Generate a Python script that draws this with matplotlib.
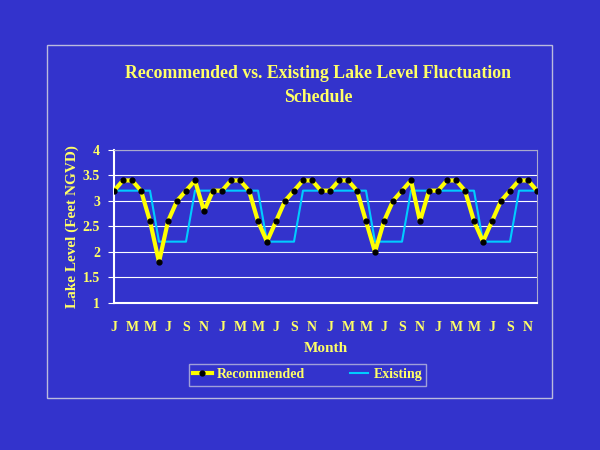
import matplotlib.pyplot as plt
from matplotlib.patches import Rectangle

# monthly lake levels over four years (Jan..Dec x 4)
months = ['J', 'F', 'M', 'A', 'M', 'J', 'J', 'A', 'S', 'O', 'N', 'D'] * 4
recommended = [3.2, 3.4, 3.4, 3.2, 2.6, 1.8, 2.6, 3.0, 3.2, 3.4, 2.8, 3.2,
               3.2, 3.4, 3.4, 3.2, 2.6, 2.2, 2.6, 3.0, 3.2, 3.4, 3.4, 3.2,
               3.2, 3.4, 3.4, 3.2, 2.6, 2.0, 2.6, 3.0, 3.2, 3.4, 2.6, 3.2,
               3.2, 3.4, 3.4, 3.2, 2.6, 2.2, 2.6, 3.0, 3.2, 3.4, 3.4, 3.2]
existing = [3.2, 3.2, 3.2, 3.2, 3.2, 2.2, 2.2, 2.2, 2.2, 3.2, 3.2, 3.2,
            3.2, 3.2, 3.2, 3.2, 3.2, 2.2, 2.2, 2.2, 2.2, 3.2, 3.2, 3.2,
            3.2, 3.2, 3.2, 3.2, 3.2, 2.2, 2.2, 2.2, 2.2, 3.2, 3.2, 3.2,
            3.2, 3.2, 3.2, 3.2, 3.2, 2.2, 2.2, 2.2, 2.2, 3.2, 3.2, 3.2]
yticks = [1, 1.5, 2, 2.5, 3, 3.5, 4]

bg = '#3333CC'
yel = '#FFFF66'
font = ['Liberation Serif', 'DejaVu Serif']

fig = plt.figure(figsize=(6, 4.5), dpi=100, facecolor=bg)
ax = fig.add_axes([0.19, 0.327, 0.705, 0.34], facecolor=bg)

x = list(range(len(months)))
ax.plot(x, existing, color='#00CCFF', lw=1.5, label='Existing', zorder=3)
ax.plot(x, recommended, color='#FFFF00', lw=3, marker='o', ms=3.5,
        mfc='black', mec='black', label='Recommended', zorder=4)

ax.set_xlim(0, len(months) - 1)
ax.set_ylim(1, 4)
ax.set_yticks(yticks)
ax.set_yticklabels([f'{v:g}' for v in yticks], color=yel,
                   fontfamily=font, fontweight='bold', fontsize=10)
ax.set_xticks(x[::2])
ax.set_xticklabels(months[::2], color=yel, fontfamily=font,
                   fontweight='bold', fontsize=10)
ax.set_xticks(x[::6], minor=True)
ax.tick_params(axis='x', which='major', length=0, pad=13)
ax.tick_params(axis='x', which='minor', length=5, color='white', width=1)
ax.tick_params(axis='y', length=4, color='white', pad=6)

ax.grid(True, axis='y', color='white', lw=0.8)
ax.grid(True, axis='x', which='minor', color='white', lw=0.8)
for s in ['top', 'right']:
    ax.spines[s].set_color('#AAAACC')
    ax.spines[s].set_linewidth(0.8)
for s in ['left', 'bottom']:
    ax.spines[s].set_color('white')
    ax.spines[s].set_linewidth(1.5)

ax.set_ylabel('Lake Level (Feet NGVD)', color=yel, fontfamily=font,
              fontweight='bold', fontsize=11, labelpad=3)
ax.set_xlabel('Month', color=yel, fontfamily=font, fontweight='bold',
              fontsize=11, labelpad=6)

fig.text(0.53, 0.81, 'Recommended vs. Existing Lake Level Fluctuation\nSchedule',
         ha='center', va='center', color=yel, fontfamily=font,
         fontweight='bold', fontsize=12.8, linespacing=1.5)

# outer chart border
fig.patches.append(Rectangle((47 / 600, 1 - 398 / 450), 505 / 600, 353 / 450,
                             transform=fig.transFigure, fill=False,
                             ec='#BBBBDD', lw=1))

h, l = ax.get_legend_handles_labels()
leg = fig.legend(h[::-1], l[::-1], loc='center', bbox_to_anchor=(0.513, 0.167),
                 ncol=2, frameon=True, fancybox=False, facecolor=bg,
                 edgecolor='#BBBBDD', handlelength=1.3, handletextpad=0.4,
                 columnspacing=3.2, borderpad=0.3,
                 prop={'family': font, 'weight': 'bold', 'size': 10})
for t in leg.get_texts():
    t.set_color(yel)

fig.savefig('out.png', dpi=100, facecolor=bg)
